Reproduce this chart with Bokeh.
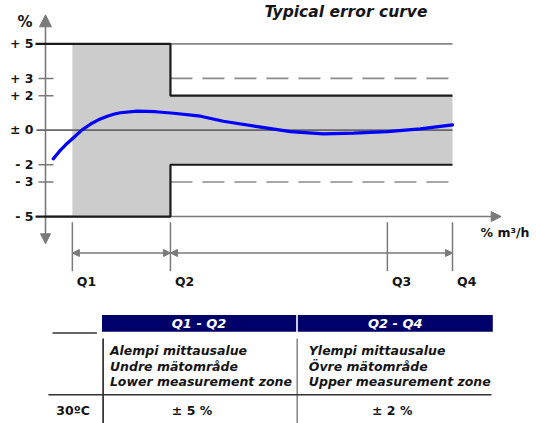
from bokeh.plotting import figure
from bokeh.models import Range1d, Arrow, NormalHead
from bokeh.core.properties import value
from bokeh.embed import file_html
from bokeh.resources import INLINE

# ---------------- data ----------------
title = "Typical error curve"
y_unit = "%"
x_unit = "% m³/h"
q_labels = ["Q1", "Q2", "Q3", "Q4"]
q_flow = [6.6, 30.7, 84.0, 100.0]          # flow, % of Q4
y_ticks = [5, 3, 2, 0, -2, -3, -5]
y_tick_labels = ["+ 5", "+ 3", "+ 2", "± 0", "- 2", "- 3", "- 5"]
lower_zone_limit = 5     # Q1 - Q2  (± %)
upper_zone_limit = 2     # Q2 - Q4  (± %)
guide_limit = 3          # dashed guide (± %)

flow = [1.9, 3.7, 5.3, 7.0, 9.0, 11.1, 13.0, 15.2, 16.7, 18.4, 22.5, 27.0, 31.5,
        38.1, 43.7, 52.1, 60.2, 68.3, 75.7, 84.0, 92.1, 100.0]
error = [-1.66, -1.15, -0.77, -0.41, 0.02, 0.36, 0.60, 0.81, 0.92, 1.01, 1.10, 1.07, 0.98,
         0.81, 0.52, 0.21, -0.08, -0.21, -0.17, -0.08, 0.08, 0.31]

zone_headers = ["Q1 - Q2", "Q2 - Q4"]
zone_names = [["Alempi mittausalue", "Undre mätområde", "Lower measurement zone"],
              ["Ylempi mittausalue", "Övre mätområde", "Upper measurement zone"]]
row_label = "30ºC"
zone_tolerance = ["± 5 %", "± 2 %"]

# ---------------- layout helpers (page pixels -> data) ----------------
PX0, SX = 45.0, 4.07
PY0, SY = 129.7, 17.27
def X(px): return (px - PX0) / SX
def Y(py): return (PY0 - py) / SY
def dx(d): return d / SX
def dy(d): return d / SY
SHIFT = 0.38
def TB(py, size):
    """baseline position (page px) corrected for the renderer's text offset"""
    return Y(py - SHIFT * size)

FONT = value("DejaVu Sans")
INK = "#151515"
GREY = "#7a7a7a"

W, H = 536, 423
p = figure(width=W, height=H, x_range=Range1d(X(0), X(W)),
           y_range=Range1d(Y(H), Y(0)), output_backend="svg",
           toolbar_location=None, x_axis_location=None, y_axis_location=None,
           min_border=0)
p.xgrid.grid_line_color = None
p.ygrid.grid_line_color = None
p.outline_line_color = None
p.background_fill_color = "white"
p.border_fill_color = "white"

q1, q2, q3, q4 = q_flow
L, U, G = lower_zone_limit, upper_zone_limit, guide_limit

# tolerance area
p.patch([q1, q2, q2, q4, q4, q2, q2, q1], [L, L, U, U, -U, -U, -L, -L],
        fill_color="#cccccc", line_color=None)

# dashed guides
p.multi_line([[q2, q4], [q2, q4]], [[G, G], [-G, -G]], line_color="#8a8a8a",
             line_width=1.6, line_dash="22 10")
# +5 continuation in upper zone
p.line([q2, q4], [L, L], line_color="#858585", line_width=1.6)
# zero line
p.line([X(36), q4], [0, 0], line_color="#666666", line_width=1.8)
# short ticks
short = [t for t in y_ticks if t not in (L, -L, 0)]
p.segment(x0=[X(38)] * len(short), y0=short, x1=[X(53)] * len(short), y1=short,
          line_color=GREY, line_width=1.5)
# limit lines
p.line([X(35), q2, q2, q4], [L, L, U, U], line_color="#1a1a1a", line_width=2.2)
p.line([X(35), q2, q2, q4], [-L, -L, -U, -U], line_color="#1a1a1a", line_width=2.2)

# error curve
p.line(flow, error, line_color="#0000ff", line_width=3.2, line_join="round",
       line_cap="round")

# axes
p.add_layout(Arrow(x_start=0, y_start=Y(243.3), x_end=0, y_end=Y(14.3),
                   line_color=GREY, line_width=1.6, level="underlay",
                   start=NormalHead(size=10, fill_color=GREY, line_color=GREY),
                   end=NormalHead(size=12, fill_color=GREY, line_color=GREY)))
p.add_layout(Arrow(x_start=0, y_start=-L, x_end=X(500.7), y_end=-L,
                   line_color=GREY, line_width=1.6, level="underlay",
                   end=NormalHead(size=10, fill_color=GREY, line_color=GREY)))

# Q markers below the axis
p.segment(x0=q_flow, y0=[Y(221.7)] * 4, x1=q_flow, y1=[Y(270.7)] * 4,
          line_color=GREY, line_width=1.5)
for a, b in [(q1, q2), (q2, q4)]:
    p.add_layout(Arrow(x_start=a, y_start=Y(252.5), x_end=b, y_end=Y(252.5),
                       line_color=GREY, line_width=1.4, level="underlay",
                       start=NormalHead(size=7, fill_color=GREY, line_color=GREY),
                       end=NormalHead(size=7, fill_color=GREY, line_color=GREY)))

# texts of chart
p.text(x=[X(345.5)], y=[TB(17, 15.5)], text=[title], text_font=FONT, text_font_style="bold italic",
       text_font_size="15.5px", text_align="center", text_baseline="alphabetic", text_color=INK)
p.text(x=[X(24.5)], y=[TB(26.7, 15)], text=[y_unit], text_font=FONT, text_font_style="bold",
       text_font_size="15px", text_align="center", text_baseline="alphabetic", text_color=INK)
p.text(x=[X(33)] * len(y_ticks), y=[t - dy(4.5 - SHIFT * 12.5) for t in y_ticks],
       text=y_tick_labels, text_font=FONT, text_font_style="bold", text_font_size="12.5px",
       text_align="right", text_baseline="alphabetic", text_color=INK)
p.text(x=[q + dx(4.5) for q in q_flow], y=[TB(285.5, 12.5)] * 4, text=q_labels, text_font=FONT,
       text_font_style="bold", text_font_size="12.5px", text_align="left",
       text_baseline="alphabetic", text_color=INK)
p.text(x=[X(480)], y=[TB(237, 12.5)], text=[x_unit], text_font=FONT, text_font_style="bold",
       text_font_size="12.5px", text_align="left", text_baseline="alphabetic", text_color=INK)

# ---------------- table ----------------
p.segment(x0=[X(52)], y0=[Y(332.5)], x1=[X(96.4)], y1=[Y(332.5)], line_color="#333333",
          line_width=1.5)
bar_l = [X(101.5), X(297.3)]
bar_r = [X(295.7), X(492.3)]
p.quad(left=bar_l, right=bar_r, top=[Y(314.4)] * 2, bottom=[Y(331.2)] * 2,
       fill_color="#00006a", line_color=None)
p.text(x=[(a + b) / 2 for a, b in zip(bar_l, bar_r)], y=[TB(328, 13)] * 2, text=zone_headers,
       text_font=FONT, text_font_style="bold italic", text_font_size="13px",
       text_align="center", text_baseline="alphabetic", text_color="white")
p.segment(x0=[X(102.6)], y0=[Y(338)], x1=[X(102.6)], y1=[Y(430)], line_color="#222222",
          line_width=1.6)
p.segment(x0=[X(296.7)], y0=[Y(338)], x1=[X(296.7)], y1=[Y(430)], line_color="#8a8a8a",
          line_width=1.6)
p.segment(x0=[X(47.9)], y0=[Y(394.3)], x1=[X(491)], y1=[Y(394.3)], line_color="#333333",
          line_width=1.6)
col_x = [X(109.4), X(308.3)]
row_y = [TB(355, 12.5), TB(370.5, 12.5), TB(385.7, 12.5)]
for cx, names in zip(col_x, zone_names):
    p.text(x=[cx] * len(names), y=row_y, text=names, text_font=FONT,
           text_font_style="bold italic", text_font_size="12.5px", text_align="left",
           text_baseline="alphabetic", text_color=INK)
p.text(x=[X(72.6)], y=[TB(415, 12.5)], text=[row_label], text_font=FONT, text_font_style="bold",
       text_font_size="12.5px", text_align="center", text_baseline="alphabetic", text_color=INK)
p.text(x=[X(191.5), X(391.7)], y=[TB(415, 12.5)] * 2, text=zone_tolerance, text_font=FONT,
       text_font_style="bold", text_font_size="12.5px", text_align="center",
       text_baseline="alphabetic", text_color=INK)

open("out.html", "w").write(file_html(p, INLINE))
